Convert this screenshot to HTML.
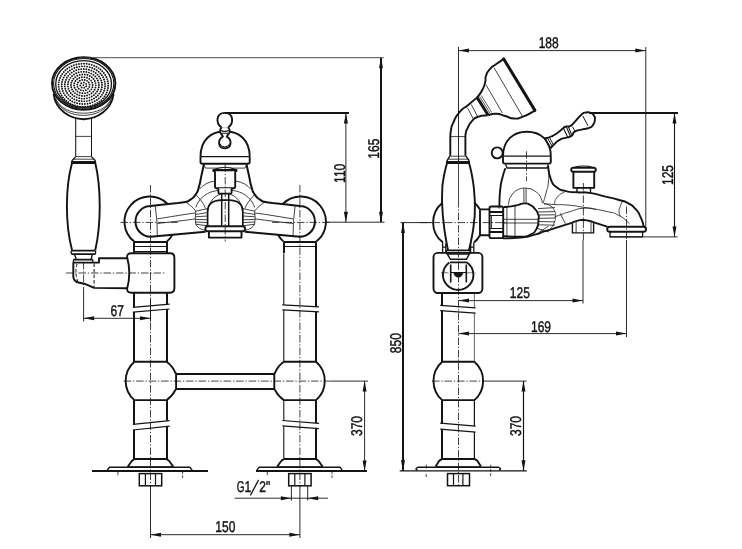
<!DOCTYPE html>
<html><head><meta charset="utf-8"><title>Drawing</title>
<style>
html,body{margin:0;padding:0;background:#fff;}
body{width:742px;height:549px;overflow:hidden;}
svg{display:block;}
text{font-family:"Liberation Sans",sans-serif;fill:#141414;stroke:#141414;stroke-width:0.45px;text-rendering:geometricPrecision;}
</style></head><body>
<svg width="742" height="549" viewBox="0 0 742 549">
<rect x="0" y="0" width="742" height="549" fill="#ffffff"/>
<g opacity="0.999">
<path d="M53.6,94 C55.5,110 70,119.2 83.6,119.2 C97,119.2 111.5,110 113.6,94" stroke="#141414" stroke-width="1.9" fill="none" stroke-linejoin="round" stroke-linecap="butt"/>
<path d="M56.2,100.5 C61,110.5 72,115.4 83.6,115.4 C95,115.4 106,110.5 110.8,100.5" stroke="#141414" stroke-width="0.8" fill="none" stroke-linejoin="round" stroke-linecap="butt"/>
<path d="M55.0,97.6 C60,108.8 71,113.2 83.6,113.2 C96,113.2 107,108.8 112.0,97.6" stroke="#141414" stroke-width="0.8" fill="none" stroke-linejoin="round" stroke-linecap="butt"/>
<ellipse cx="83.7" cy="83.5" rx="31.7" ry="26.2" stroke="#141414" stroke-width="1.9" fill="#fff" />
<ellipse cx="83.7" cy="83.4" rx="30.1" ry="24.9" stroke="#141414" stroke-width="1.1" fill="none" />
<ellipse cx="83.6" cy="84.0" rx="27.9" ry="23.3" stroke="#141414" stroke-width="1.3" fill="none" />
<circle cx="86.29" cy="86.18" r="0.95" fill="#141414"/>
<circle cx="84.33" cy="87.77" r="0.95" fill="#141414"/>
<circle cx="81.66" cy="87.43" r="0.95" fill="#141414"/>
<circle cx="80.31" cy="85.41" r="0.95" fill="#141414"/>
<circle cx="81.28" cy="83.23" r="0.95" fill="#141414"/>
<circle cx="83.85" cy="82.53" r="0.95" fill="#141414"/>
<circle cx="86.08" cy="83.84" r="0.95" fill="#141414"/>
<circle cx="87.98" cy="88.84" r="0.95" fill="#141414"/>
<circle cx="85.88" cy="90.14" r="0.95" fill="#141414"/>
<circle cx="83.36" cy="90.59" r="0.95" fill="#141414"/>
<circle cx="80.84" cy="90.11" r="0.95" fill="#141414"/>
<circle cx="78.76" cy="88.78" r="0.95" fill="#141414"/>
<circle cx="77.49" cy="86.83" r="0.95" fill="#141414"/>
<circle cx="77.24" cy="84.60" r="0.95" fill="#141414"/>
<circle cx="78.05" cy="82.47" r="0.95" fill="#141414"/>
<circle cx="79.79" cy="80.81" r="0.95" fill="#141414"/>
<circle cx="82.15" cy="79.92" r="0.95" fill="#141414"/>
<circle cx="84.73" cy="79.93" r="0.95" fill="#141414"/>
<circle cx="87.08" cy="80.86" r="0.95" fill="#141414"/>
<circle cx="88.79" cy="82.54" r="0.95" fill="#141414"/>
<circle cx="89.57" cy="84.67" r="0.95" fill="#141414"/>
<circle cx="89.28" cy="86.90" r="0.95" fill="#141414"/>
<circle cx="87.54" cy="92.45" r="0.95" fill="#141414"/>
<circle cx="85.02" cy="93.17" r="0.95" fill="#141414"/>
<circle cx="82.38" cy="93.24" r="0.95" fill="#141414"/>
<circle cx="79.81" cy="92.66" r="0.95" fill="#141414"/>
<circle cx="77.54" cy="91.48" r="0.95" fill="#141414"/>
<circle cx="75.74" cy="89.79" r="0.95" fill="#141414"/>
<circle cx="74.57" cy="87.73" r="0.95" fill="#141414"/>
<circle cx="74.10" cy="85.46" r="0.95" fill="#141414"/>
<circle cx="74.40" cy="83.17" r="0.95" fill="#141414"/>
<circle cx="75.42" cy="81.05" r="0.95" fill="#141414"/>
<circle cx="77.09" cy="79.26" r="0.95" fill="#141414"/>
<circle cx="79.26" cy="77.95" r="0.95" fill="#141414"/>
<circle cx="81.78" cy="77.23" r="0.95" fill="#141414"/>
<circle cx="84.42" cy="77.16" r="0.95" fill="#141414"/>
<circle cx="86.99" cy="77.74" r="0.95" fill="#141414"/>
<circle cx="89.26" cy="78.92" r="0.95" fill="#141414"/>
<circle cx="91.06" cy="80.61" r="0.95" fill="#141414"/>
<circle cx="92.23" cy="82.67" r="0.95" fill="#141414"/>
<circle cx="92.70" cy="84.94" r="0.95" fill="#141414"/>
<circle cx="92.40" cy="87.23" r="0.95" fill="#141414"/>
<circle cx="91.38" cy="89.35" r="0.95" fill="#141414"/>
<circle cx="89.71" cy="91.14" r="0.95" fill="#141414"/>
<circle cx="84.52" cy="95.94" r="0.95" fill="#141414"/>
<circle cx="81.93" cy="95.91" r="0.95" fill="#141414"/>
<circle cx="79.40" cy="95.41" r="0.95" fill="#141414"/>
<circle cx="77.05" cy="94.47" r="0.95" fill="#141414"/>
<circle cx="74.98" cy="93.12" r="0.95" fill="#141414"/>
<circle cx="73.27" cy="91.42" r="0.95" fill="#141414"/>
<circle cx="72.00" cy="89.45" r="0.95" fill="#141414"/>
<circle cx="71.24" cy="87.30" r="0.95" fill="#141414"/>
<circle cx="71.00" cy="85.05" r="0.95" fill="#141414"/>
<circle cx="71.31" cy="82.81" r="0.95" fill="#141414"/>
<circle cx="72.14" cy="80.68" r="0.95" fill="#141414"/>
<circle cx="73.47" cy="78.74" r="0.95" fill="#141414"/>
<circle cx="75.23" cy="77.08" r="0.95" fill="#141414"/>
<circle cx="77.35" cy="75.78" r="0.95" fill="#141414"/>
<circle cx="79.73" cy="74.89" r="0.95" fill="#141414"/>
<circle cx="82.28" cy="74.46" r="0.95" fill="#141414"/>
<circle cx="84.87" cy="74.49" r="0.95" fill="#141414"/>
<circle cx="87.40" cy="74.99" r="0.95" fill="#141414"/>
<circle cx="89.75" cy="75.93" r="0.95" fill="#141414"/>
<circle cx="91.82" cy="77.28" r="0.95" fill="#141414"/>
<circle cx="93.53" cy="78.98" r="0.95" fill="#141414"/>
<circle cx="94.80" cy="80.95" r="0.95" fill="#141414"/>
<circle cx="95.56" cy="83.10" r="0.95" fill="#141414"/>
<circle cx="95.80" cy="85.35" r="0.95" fill="#141414"/>
<circle cx="95.49" cy="87.59" r="0.95" fill="#141414"/>
<circle cx="94.66" cy="89.72" r="0.95" fill="#141414"/>
<circle cx="93.33" cy="91.66" r="0.95" fill="#141414"/>
<circle cx="91.57" cy="93.32" r="0.95" fill="#141414"/>
<circle cx="89.45" cy="94.62" r="0.95" fill="#141414"/>
<circle cx="87.07" cy="95.51" r="0.95" fill="#141414"/>
<circle cx="79.13" cy="98.16" r="0.95" fill="#141414"/>
<circle cx="76.67" cy="97.35" r="0.95" fill="#141414"/>
<circle cx="74.41" cy="96.18" r="0.95" fill="#141414"/>
<circle cx="72.40" cy="94.70" r="0.95" fill="#141414"/>
<circle cx="70.72" cy="92.95" r="0.95" fill="#141414"/>
<circle cx="69.39" cy="90.97" r="0.95" fill="#141414"/>
<circle cx="68.47" cy="88.83" r="0.95" fill="#141414"/>
<circle cx="67.98" cy="86.58" r="0.95" fill="#141414"/>
<circle cx="67.93" cy="84.30" r="0.95" fill="#141414"/>
<circle cx="68.33" cy="82.04" r="0.95" fill="#141414"/>
<circle cx="69.16" cy="79.87" r="0.95" fill="#141414"/>
<circle cx="70.40" cy="77.85" r="0.95" fill="#141414"/>
<circle cx="72.02" cy="76.05" r="0.95" fill="#141414"/>
<circle cx="73.96" cy="74.50" r="0.95" fill="#141414"/>
<circle cx="76.17" cy="73.27" r="0.95" fill="#141414"/>
<circle cx="78.60" cy="72.38" r="0.95" fill="#141414"/>
<circle cx="81.16" cy="71.86" r="0.95" fill="#141414"/>
<circle cx="83.78" cy="71.72" r="0.95" fill="#141414"/>
<circle cx="86.39" cy="71.97" r="0.95" fill="#141414"/>
<circle cx="88.92" cy="72.60" r="0.95" fill="#141414"/>
<circle cx="91.29" cy="73.59" r="0.95" fill="#141414"/>
<circle cx="93.43" cy="74.92" r="0.95" fill="#141414"/>
<circle cx="95.28" cy="76.54" r="0.95" fill="#141414"/>
<circle cx="96.79" cy="78.41" r="0.95" fill="#141414"/>
<circle cx="97.92" cy="80.48" r="0.95" fill="#141414"/>
<circle cx="98.63" cy="82.68" r="0.95" fill="#141414"/>
<circle cx="98.90" cy="84.96" r="0.95" fill="#141414"/>
<circle cx="98.72" cy="87.24" r="0.95" fill="#141414"/>
<circle cx="98.11" cy="89.46" r="0.95" fill="#141414"/>
<circle cx="97.07" cy="91.56" r="0.95" fill="#141414"/>
<circle cx="95.63" cy="93.48" r="0.95" fill="#141414"/>
<circle cx="93.85" cy="95.16" r="0.95" fill="#141414"/>
<circle cx="91.76" cy="96.55" r="0.95" fill="#141414"/>
<circle cx="89.44" cy="97.62" r="0.95" fill="#141414"/>
<circle cx="86.94" cy="98.33" r="0.95" fill="#141414"/>
<circle cx="84.34" cy="98.66" r="0.95" fill="#141414"/>
<circle cx="81.71" cy="98.60" r="0.95" fill="#141414"/>
<circle cx="72.16" cy="98.09" r="0.95" fill="#141414"/>
<circle cx="70.20" cy="96.60" r="0.95" fill="#141414"/>
<circle cx="68.51" cy="94.89" r="0.95" fill="#141414"/>
<circle cx="67.10" cy="93.00" r="0.95" fill="#141414"/>
<circle cx="66.01" cy="90.95" r="0.95" fill="#141414"/>
<circle cx="65.26" cy="88.79" r="0.95" fill="#141414"/>
<circle cx="64.87" cy="86.56" r="0.95" fill="#141414"/>
<circle cx="64.83" cy="84.30" r="0.95" fill="#141414"/>
<circle cx="65.15" cy="82.06" r="0.95" fill="#141414"/>
<circle cx="65.83" cy="79.88" r="0.95" fill="#141414"/>
<circle cx="66.86" cy="77.80" r="0.95" fill="#141414"/>
<circle cx="68.20" cy="75.87" r="0.95" fill="#141414"/>
<circle cx="69.84" cy="74.12" r="0.95" fill="#141414"/>
<circle cx="71.74" cy="72.59" r="0.95" fill="#141414"/>
<circle cx="73.88" cy="71.30" r="0.95" fill="#141414"/>
<circle cx="76.19" cy="70.28" r="0.95" fill="#141414"/>
<circle cx="78.65" cy="69.56" r="0.95" fill="#141414"/>
<circle cx="81.20" cy="69.13" r="0.95" fill="#141414"/>
<circle cx="83.79" cy="69.02" r="0.95" fill="#141414"/>
<circle cx="86.37" cy="69.23" r="0.95" fill="#141414"/>
<circle cx="88.90" cy="69.74" r="0.95" fill="#141414"/>
<circle cx="91.32" cy="70.56" r="0.95" fill="#141414"/>
<circle cx="93.58" cy="71.66" r="0.95" fill="#141414"/>
<circle cx="95.65" cy="73.02" r="0.95" fill="#141414"/>
<circle cx="97.48" cy="74.63" r="0.95" fill="#141414"/>
<circle cx="99.03" cy="76.43" r="0.95" fill="#141414"/>
<circle cx="100.28" cy="78.41" r="0.95" fill="#141414"/>
<circle cx="101.21" cy="80.52" r="0.95" fill="#141414"/>
<circle cx="101.78" cy="82.72" r="0.95" fill="#141414"/>
<circle cx="102.00" cy="84.97" r="0.95" fill="#141414"/>
<circle cx="101.85" cy="87.23" r="0.95" fill="#141414"/>
<circle cx="101.35" cy="89.44" r="0.95" fill="#141414"/>
<circle cx="100.50" cy="91.57" r="0.95" fill="#141414"/>
<circle cx="99.31" cy="93.58" r="0.95" fill="#141414"/>
<circle cx="97.81" cy="95.43" r="0.95" fill="#141414"/>
<circle cx="96.04" cy="97.07" r="0.95" fill="#141414"/>
<circle cx="94.02" cy="98.49" r="0.95" fill="#141414"/>
<circle cx="91.79" cy="99.64" r="0.95" fill="#141414"/>
<circle cx="89.40" cy="100.52" r="0.95" fill="#141414"/>
<circle cx="86.89" cy="101.10" r="0.95" fill="#141414"/>
<circle cx="84.31" cy="101.36" r="0.95" fill="#141414"/>
<circle cx="81.72" cy="101.32" r="0.95" fill="#141414"/>
<circle cx="79.15" cy="100.95" r="0.95" fill="#141414"/>
<circle cx="76.67" cy="100.29" r="0.95" fill="#141414"/>
<circle cx="74.33" cy="99.33" r="0.95" fill="#141414"/>
<circle cx="64.92" cy="95.09" r="0.95" fill="#141414"/>
<circle cx="63.68" cy="93.08" r="0.95" fill="#141414"/>
<circle cx="62.73" cy="90.96" r="0.95" fill="#141414"/>
<circle cx="62.09" cy="88.75" r="0.95" fill="#141414"/>
<circle cx="61.75" cy="86.49" r="0.95" fill="#141414"/>
<circle cx="61.73" cy="84.21" r="0.95" fill="#141414"/>
<circle cx="62.03" cy="81.94" r="0.95" fill="#141414"/>
<circle cx="62.63" cy="79.73" r="0.95" fill="#141414"/>
<circle cx="63.54" cy="77.59" r="0.95" fill="#141414"/>
<circle cx="64.74" cy="75.56" r="0.95" fill="#141414"/>
<circle cx="66.21" cy="73.67" r="0.95" fill="#141414"/>
<circle cx="67.94" cy="71.96" r="0.95" fill="#141414"/>
<circle cx="69.88" cy="70.43" r="0.95" fill="#141414"/>
<circle cx="72.03" cy="69.12" r="0.95" fill="#141414"/>
<circle cx="74.34" cy="68.05" r="0.95" fill="#141414"/>
<circle cx="76.78" cy="67.22" r="0.95" fill="#141414"/>
<circle cx="79.32" cy="66.66" r="0.95" fill="#141414"/>
<circle cx="81.92" cy="66.36" r="0.95" fill="#141414"/>
<circle cx="84.54" cy="66.35" r="0.95" fill="#141414"/>
<circle cx="87.14" cy="66.60" r="0.95" fill="#141414"/>
<circle cx="89.69" cy="67.13" r="0.95" fill="#141414"/>
<circle cx="92.15" cy="67.92" r="0.95" fill="#141414"/>
<circle cx="94.48" cy="68.97" r="0.95" fill="#141414"/>
<circle cx="96.65" cy="70.25" r="0.95" fill="#141414"/>
<circle cx="98.62" cy="71.75" r="0.95" fill="#141414"/>
<circle cx="100.38" cy="73.44" r="0.95" fill="#141414"/>
<circle cx="101.88" cy="75.31" r="0.95" fill="#141414"/>
<circle cx="103.12" cy="77.32" r="0.95" fill="#141414"/>
<circle cx="104.07" cy="79.44" r="0.95" fill="#141414"/>
<circle cx="104.71" cy="81.65" r="0.95" fill="#141414"/>
<circle cx="105.05" cy="83.91" r="0.95" fill="#141414"/>
<circle cx="105.07" cy="86.19" r="0.95" fill="#141414"/>
<circle cx="104.77" cy="88.46" r="0.95" fill="#141414"/>
<circle cx="104.17" cy="90.67" r="0.95" fill="#141414"/>
<circle cx="103.26" cy="92.81" r="0.95" fill="#141414"/>
<circle cx="102.06" cy="94.84" r="0.95" fill="#141414"/>
<circle cx="100.59" cy="96.73" r="0.95" fill="#141414"/>
<circle cx="98.86" cy="98.44" r="0.95" fill="#141414"/>
<circle cx="96.92" cy="99.97" r="0.95" fill="#141414"/>
<circle cx="94.77" cy="101.28" r="0.95" fill="#141414"/>
<circle cx="92.46" cy="102.35" r="0.95" fill="#141414"/>
<circle cx="90.02" cy="103.18" r="0.95" fill="#141414"/>
<circle cx="87.48" cy="103.74" r="0.95" fill="#141414"/>
<circle cx="84.88" cy="104.04" r="0.95" fill="#141414"/>
<circle cx="82.26" cy="104.05" r="0.95" fill="#141414"/>
<circle cx="79.66" cy="103.80" r="0.95" fill="#141414"/>
<circle cx="77.11" cy="103.27" r="0.95" fill="#141414"/>
<circle cx="74.65" cy="102.48" r="0.95" fill="#141414"/>
<circle cx="72.32" cy="101.43" r="0.95" fill="#141414"/>
<circle cx="70.15" cy="100.15" r="0.95" fill="#141414"/>
<circle cx="68.18" cy="98.65" r="0.95" fill="#141414"/>
<circle cx="66.42" cy="96.96" r="0.95" fill="#141414"/>
<circle cx="59.01" cy="89.10" r="0.95" fill="#141414"/>
<circle cx="58.67" cy="86.86" r="0.95" fill="#141414"/>
<circle cx="58.61" cy="84.60" r="0.95" fill="#141414"/>
<circle cx="58.82" cy="82.35" r="0.95" fill="#141414"/>
<circle cx="59.29" cy="80.13" r="0.95" fill="#141414"/>
<circle cx="60.04" cy="77.96" r="0.95" fill="#141414"/>
<circle cx="61.03" cy="75.88" r="0.95" fill="#141414"/>
<circle cx="62.28" cy="73.90" r="0.95" fill="#141414"/>
<circle cx="63.75" cy="72.04" r="0.95" fill="#141414"/>
<circle cx="65.44" cy="70.32" r="0.95" fill="#141414"/>
<circle cx="67.33" cy="68.77" r="0.95" fill="#141414"/>
<circle cx="69.39" cy="67.40" r="0.95" fill="#141414"/>
<circle cx="71.60" cy="66.22" r="0.95" fill="#141414"/>
<circle cx="73.95" cy="65.25" r="0.95" fill="#141414"/>
<circle cx="76.40" cy="64.50" r="0.95" fill="#141414"/>
<circle cx="78.92" cy="63.98" r="0.95" fill="#141414"/>
<circle cx="81.50" cy="63.69" r="0.95" fill="#141414"/>
<circle cx="84.09" cy="63.63" r="0.95" fill="#141414"/>
<circle cx="86.68" cy="63.81" r="0.95" fill="#141414"/>
<circle cx="89.23" cy="64.23" r="0.95" fill="#141414"/>
<circle cx="91.72" cy="64.87" r="0.95" fill="#141414"/>
<circle cx="94.11" cy="65.74" r="0.95" fill="#141414"/>
<circle cx="96.39" cy="66.82" r="0.95" fill="#141414"/>
<circle cx="98.53" cy="68.10" r="0.95" fill="#141414"/>
<circle cx="100.50" cy="69.57" r="0.95" fill="#141414"/>
<circle cx="102.28" cy="71.21" r="0.95" fill="#141414"/>
<circle cx="103.86" cy="73.01" r="0.95" fill="#141414"/>
<circle cx="105.21" cy="74.94" r="0.95" fill="#141414"/>
<circle cx="106.33" cy="76.98" r="0.95" fill="#141414"/>
<circle cx="107.19" cy="79.11" r="0.95" fill="#141414"/>
<circle cx="107.79" cy="81.30" r="0.95" fill="#141414"/>
<circle cx="108.13" cy="83.54" r="0.95" fill="#141414"/>
<circle cx="108.19" cy="85.80" r="0.95" fill="#141414"/>
<circle cx="107.98" cy="88.05" r="0.95" fill="#141414"/>
<circle cx="107.51" cy="90.27" r="0.95" fill="#141414"/>
<circle cx="106.76" cy="92.44" r="0.95" fill="#141414"/>
<circle cx="105.77" cy="94.52" r="0.95" fill="#141414"/>
<circle cx="104.52" cy="96.50" r="0.95" fill="#141414"/>
<circle cx="103.05" cy="98.36" r="0.95" fill="#141414"/>
<circle cx="101.36" cy="100.08" r="0.95" fill="#141414"/>
<circle cx="99.47" cy="101.63" r="0.95" fill="#141414"/>
<circle cx="97.41" cy="103.00" r="0.95" fill="#141414"/>
<circle cx="95.20" cy="104.18" r="0.95" fill="#141414"/>
<circle cx="92.85" cy="105.15" r="0.95" fill="#141414"/>
<circle cx="90.40" cy="105.90" r="0.95" fill="#141414"/>
<circle cx="87.88" cy="106.42" r="0.95" fill="#141414"/>
<circle cx="85.30" cy="106.71" r="0.95" fill="#141414"/>
<circle cx="82.71" cy="106.77" r="0.95" fill="#141414"/>
<circle cx="80.12" cy="106.59" r="0.95" fill="#141414"/>
<circle cx="77.57" cy="106.17" r="0.95" fill="#141414"/>
<circle cx="75.08" cy="105.53" r="0.95" fill="#141414"/>
<circle cx="72.69" cy="104.66" r="0.95" fill="#141414"/>
<circle cx="70.41" cy="103.58" r="0.95" fill="#141414"/>
<circle cx="68.27" cy="102.30" r="0.95" fill="#141414"/>
<circle cx="66.30" cy="100.83" r="0.95" fill="#141414"/>
<circle cx="64.52" cy="99.19" r="0.95" fill="#141414"/>
<circle cx="62.94" cy="97.39" r="0.95" fill="#141414"/>
<circle cx="61.59" cy="95.46" r="0.95" fill="#141414"/>
<circle cx="60.47" cy="93.42" r="0.95" fill="#141414"/>
<circle cx="59.61" cy="91.29" r="0.95" fill="#141414"/>
<circle cx="83.4" cy="85.2" r="0.85" fill="#141414"/>
<line x1="75.7" y1="117" x2="75.7" y2="156.6" stroke="#141414" stroke-width="1.05" stroke-linecap="butt"/>
<line x1="91.5" y1="117" x2="91.5" y2="156.6" stroke="#141414" stroke-width="1.05" stroke-linecap="butt"/>
<line x1="75.8" y1="136.4" x2="91.5" y2="136.4" stroke="#141414" stroke-width="0.8" stroke-linecap="butt"/>
<line x1="75.8" y1="156.6" x2="91.5" y2="156.6" stroke="#141414" stroke-width="0.8" stroke-linecap="butt"/>
<path d="M75.8,156.6 L72.2,160.5 L71.7,162.5 M91.5,156.6 L95.1,160.5 L95.6,162.5" stroke="#141414" stroke-width="1.3" fill="none" stroke-linejoin="round" stroke-linecap="butt"/>
<line x1="73.5" y1="159.2" x2="93.8" y2="159.2" stroke="#141414" stroke-width="0.8" stroke-linecap="butt"/>
<line x1="71.4" y1="162.2" x2="95.9" y2="162.2" stroke="#141414" stroke-width="2.6" stroke-linecap="butt" shape-rendering="crispEdges"/>
<path d="M72,163 C65.2,188 65.2,224 72,250" stroke="#141414" stroke-width="1.9" fill="none" stroke-linejoin="round" stroke-linecap="butt"/>
<path d="M95.3,163 C101.2,188 101.2,224 95.3,250" stroke="#141414" stroke-width="1.9" fill="none" stroke-linejoin="round" stroke-linecap="butt"/>
<path d="M71.4,250.6 L95.4,250.6 M71.4,254.2 L95.4,254.2" stroke="#141414" stroke-width="1.7" fill="none" stroke-linejoin="round" stroke-linecap="butt"/>
<path d="M71.6,250.6 Q70.4,252.4 71.6,254.2 M95.2,250.6 Q96.4,252.4 95.2,254.2" stroke="#141414" stroke-width="1.5" fill="none" stroke-linejoin="round" stroke-linecap="butt"/>
<path d="M74.5,254.6 L76.2,259 M92.2,254.6 L91.2,259" stroke="#141414" stroke-width="1.4" fill="none" stroke-linejoin="round" stroke-linecap="butt"/>
<path d="M73.3,259.6 L92.9,259.6 M73.3,262.6 L92.9,262.6" stroke="#141414" stroke-width="1.6" fill="none" stroke-linejoin="round" stroke-linecap="butt"/>
<path d="M73.6,259.6 L73.3,262.6 M92.7,259.6 L92.9,262.6" stroke="#141414" stroke-width="1.3" fill="none" stroke-linejoin="round" stroke-linecap="butt"/>
<path d="M73.3,262.6 L73.3,276.6 Q73.5,281.8 79.4,282.7 L84.3,283.7 L94.1,287.9 L127,288.2" stroke="#141414" stroke-width="1.9" fill="none" stroke-linejoin="round" stroke-linecap="butt"/>
<path d="M92.9,262.6 L99,262.6 L99,258.2 L127.4,258.2" stroke="#141414" stroke-width="1.9" fill="none" stroke-linejoin="round" stroke-linecap="butt"/>
<line x1="94.1" y1="263.5" x2="94.1" y2="287.5" stroke="#141414" stroke-width="1.0" stroke-dasharray="3.5 2" stroke-linecap="butt"/>
<path d="M77,264 Q74.6,272.5 77.6,281" stroke="#141414" stroke-width="1.0" fill="none" stroke-linejoin="round" stroke-linecap="butt" stroke-dasharray="3 2"/>
<path d="M131.5,253.3 L170,253.3 Q174.4,253.3 174.4,257.7 L174.4,288.3 Q174.4,292.7 170,292.7 L131.5,292.7 Q126.4,292.7 127.2,288.2 Q131.4,273 127.2,257.4 Q126.4,253.3 131.5,253.3 Z" stroke="#141414" stroke-width="1.9" fill="none" stroke-linejoin="round" stroke-linecap="butt"/>
<line x1="134.4" y1="242.0" x2="166.6" y2="242.0" stroke="#141414" stroke-width="2.0" stroke-linecap="butt" shape-rendering="crispEdges"/>
<line x1="134.4" y1="246.5" x2="166.6" y2="246.5" stroke="#141414" stroke-width="1.1" stroke-linecap="butt"/>
<line x1="134.4" y1="251.8" x2="166.6" y2="251.8" stroke="#141414" stroke-width="1.3" stroke-linecap="butt" shape-rendering="crispEdges"/>
<line x1="134.4" y1="242.0" x2="134.4" y2="253.3" stroke="#141414" stroke-width="1.9" stroke-linecap="butt" shape-rendering="crispEdges"/>
<line x1="166.6" y1="242.0" x2="166.6" y2="253.3" stroke="#141414" stroke-width="1.9" stroke-linecap="butt" shape-rendering="crispEdges"/>
<g><path d="M167.4,203.8 A25.2,25.2 0 1 0 134.2,241.6" stroke="#141414" stroke-width="1.9" fill="none" stroke-linejoin="round"/>
<path d="M166.8,241.6 A25.2,25.2 0 0 0 172.3,235.0" stroke="#141414" stroke-width="1.9" fill="none" stroke-linejoin="round"/>
<path d="M203.90,164.30 C203.03,168.27 202.93,168.77 201.30,176.20 C199.67,183.63 200.83,180.57 199.00,186.60 C197.17,192.63 198.67,189.97 195.80,194.30 C192.93,198.63 194.00,197.03 190.40,199.60 C186.80,202.17 189.13,200.87 185.00,202.00 C180.87,203.13 180.33,202.67 178.00,203.00 L166,204.2 L150.7,206.1 A15.2,15.35 0 0 0 150.7,236.8 L205.6,231.8" stroke="#141414" stroke-width="2.0" fill="none" stroke-linejoin="round"/>
<path d="M155.3,206 Q157.6,222 157.3,236.2" stroke="#141414" stroke-width="0.8" fill="none" stroke-linejoin="round"/>
<path d="M157.3,218.9 L185,214.4 L195.3,213.0" stroke="#141414" stroke-width="0.8" fill="none" stroke-linejoin="round"/>
<path d="M157.3,223.5 L185,220.3 L195.3,218.9" stroke="#141414" stroke-width="0.8" fill="none" stroke-linejoin="round"/>
<path d="M195.6,211.2 L207.6,208.6" stroke="#141414" stroke-width="0.8" fill="none" stroke-linejoin="round"/>
<path d="M195.6,214.4 L207.6,212.6" stroke="#141414" stroke-width="0.8" fill="none" stroke-linejoin="round"/>
<path d="M195.6,216.8 L207.6,216.0" stroke="#141414" stroke-width="0.8" fill="none" stroke-linejoin="round"/>
<path d="M195.6,219.4 L207.6,219.8" stroke="#141414" stroke-width="0.8" fill="none" stroke-linejoin="round"/>
<path d="M195.6,222.0 L207.6,222.6" stroke="#141414" stroke-width="0.8" fill="none" stroke-linejoin="round"/>
<path d="M195.6,224.2 L207.6,225.8" stroke="#141414" stroke-width="0.8" fill="none" stroke-linejoin="round"/>
<path d="M195.8,211.2 Q194.6,218 195.8,224.2 Q198,229 205.5,230.4" stroke="#141414" stroke-width="0.8" fill="none" stroke-linejoin="round"/>
<path d="M199.6,189.1 C203,185 208,182 215,181" stroke="#141414" stroke-width="0.8" fill="none" stroke-linejoin="round"/>
<path d="M195.8,207.4 C198,200 205,193 214.1,191.2 L218.4,190.2" stroke="#141414" stroke-width="0.8" fill="none" stroke-linejoin="round"/>
<path d="M208.2,210.7 C208.6,203 213,196.2 221.7,193.8" stroke="#141414" stroke-width="0.8" fill="none" stroke-linejoin="round"/>
<path d="M195.8,194.5 C199.5,198.5 203.5,203 205.5,208.5" stroke="#141414" stroke-width="0.8" fill="none" stroke-linejoin="round"/>
<path d="M185,201.6 C189.5,204.5 193.5,208 195.8,211.2" stroke="#141414" stroke-width="0.8" fill="none" stroke-linejoin="round"/>
<path d="M205.5,168.1 L225.4,168.1" stroke="#141414" stroke-width="0.8" fill="none" stroke-linejoin="round"/>
<path d="M203.6,164.4 L205.5,168.1" stroke="#141414" stroke-width="0.8" fill="none" stroke-linejoin="round"/></g>
<g transform="translate(450.4,0) scale(-1,1)"><path d="M167.4,203.8 A25.2,25.2 0 1 0 134.2,241.6" stroke="#141414" stroke-width="1.9" fill="none" stroke-linejoin="round"/>
<path d="M166.8,241.6 A25.2,25.2 0 0 0 172.3,235.0" stroke="#141414" stroke-width="1.9" fill="none" stroke-linejoin="round"/>
<path d="M203.90,164.30 C203.03,168.27 202.93,168.77 201.30,176.20 C199.67,183.63 200.83,180.57 199.00,186.60 C197.17,192.63 198.67,189.97 195.80,194.30 C192.93,198.63 194.00,197.03 190.40,199.60 C186.80,202.17 189.13,200.87 185.00,202.00 C180.87,203.13 180.33,202.67 178.00,203.00 L166,204.2 L150.7,206.1 A15.2,15.35 0 0 0 150.7,236.8 L205.6,231.8" stroke="#141414" stroke-width="2.0" fill="none" stroke-linejoin="round"/>
<path d="M155.3,206 Q157.6,222 157.3,236.2" stroke="#141414" stroke-width="0.8" fill="none" stroke-linejoin="round"/>
<path d="M157.3,218.9 L185,214.4 L195.3,213.0" stroke="#141414" stroke-width="0.8" fill="none" stroke-linejoin="round"/>
<path d="M157.3,223.5 L185,220.3 L195.3,218.9" stroke="#141414" stroke-width="0.8" fill="none" stroke-linejoin="round"/>
<path d="M195.6,211.2 L207.6,208.6" stroke="#141414" stroke-width="0.8" fill="none" stroke-linejoin="round"/>
<path d="M195.6,214.4 L207.6,212.6" stroke="#141414" stroke-width="0.8" fill="none" stroke-linejoin="round"/>
<path d="M195.6,216.8 L207.6,216.0" stroke="#141414" stroke-width="0.8" fill="none" stroke-linejoin="round"/>
<path d="M195.6,219.4 L207.6,219.8" stroke="#141414" stroke-width="0.8" fill="none" stroke-linejoin="round"/>
<path d="M195.6,222.0 L207.6,222.6" stroke="#141414" stroke-width="0.8" fill="none" stroke-linejoin="round"/>
<path d="M195.6,224.2 L207.6,225.8" stroke="#141414" stroke-width="0.8" fill="none" stroke-linejoin="round"/>
<path d="M195.8,211.2 Q194.6,218 195.8,224.2 Q198,229 205.5,230.4" stroke="#141414" stroke-width="0.8" fill="none" stroke-linejoin="round"/>
<path d="M199.6,189.1 C203,185 208,182 215,181" stroke="#141414" stroke-width="0.8" fill="none" stroke-linejoin="round"/>
<path d="M195.8,207.4 C198,200 205,193 214.1,191.2 L218.4,190.2" stroke="#141414" stroke-width="0.8" fill="none" stroke-linejoin="round"/>
<path d="M208.2,210.7 C208.6,203 213,196.2 221.7,193.8" stroke="#141414" stroke-width="0.8" fill="none" stroke-linejoin="round"/>
<path d="M195.8,194.5 C199.5,198.5 203.5,203 205.5,208.5" stroke="#141414" stroke-width="0.8" fill="none" stroke-linejoin="round"/>
<path d="M185,201.6 C189.5,204.5 193.5,208 195.8,211.2" stroke="#141414" stroke-width="0.8" fill="none" stroke-linejoin="round"/>
<path d="M205.5,168.1 L225.4,168.1" stroke="#141414" stroke-width="0.8" fill="none" stroke-linejoin="round"/>
<path d="M203.6,164.4 L205.5,168.1" stroke="#141414" stroke-width="0.8" fill="none" stroke-linejoin="round"/></g>
<path d="M200.5,156.6 C200.5,140 211,131.3 225.1,131.3 C239.2,131.3 249.7,140 249.7,156.6" stroke="#141414" stroke-width="1.9" fill="#fff" stroke-linejoin="round" stroke-linecap="butt"/>
<path d="M200.5,156.6 L249.7,156.6" stroke="#141414" stroke-width="1.1" fill="none" stroke-linejoin="round" stroke-linecap="butt"/>
<path d="M200.5,156.6 L200.5,162 Q200.5,163.8 202.5,163.8 L247.7,163.8 Q249.7,163.8 249.7,162 L249.7,156.6" stroke="#141414" stroke-width="1.9" fill="none" stroke-linejoin="round" stroke-linecap="butt"/>
<path d="M221.6,127.6 C215.4,123.5 216,112.9 224.8,112.9 C233.6,112.9 234.2,123.5 228.1,127.6" stroke="#141414" stroke-width="1.9" fill="#fff" stroke-linejoin="round" stroke-linecap="butt"/>
<path d="M221.6,127.6 Q224.8,129.2 228.1,127.6" stroke="#141414" stroke-width="1.1" fill="none" stroke-linejoin="round" stroke-linecap="butt"/>
<path d="M221.6,127.6 L220.3,129.2 Q219.5,131.6 220.8,133.7 L229.0,133.7 Q230.3,131.6 229.5,129.2 L228.1,127.6" stroke="#141414" stroke-width="1.7" fill="#fff" stroke-linejoin="round" stroke-linecap="butt"/>
<path d="M220.2,130.2 Q224.8,132.6 229.6,130.2" stroke="#141414" stroke-width="1.2" fill="none" stroke-linejoin="round" stroke-linecap="butt"/>
<path d="M221.2,133.7 L222.9,136.6 C217.6,139.4 217.4,148.3 224.8,148.3 C232.2,148.3 232,139.4 226.8,136.6 L228.6,133.7" stroke="#141414" stroke-width="1.9" fill="#fff" stroke-linejoin="round" stroke-linecap="butt"/>
<path d="M219.6,143.2 Q221,147 224.8,147 Q228.6,147 230,143.2" stroke="#141414" stroke-width="1.0" fill="none" stroke-linejoin="round" stroke-linecap="butt"/>
<path d="M213.2,169.9 Q225.2,164.6 236.6,169.9" stroke="#141414" stroke-width="1.2" fill="#fff" stroke-linejoin="round" stroke-linecap="butt"/>
<path d="M213.2,169.9 L236.6,169.9 L236.6,171.3 L213.2,171.3 Z" stroke="#141414" stroke-width="1.6" fill="none" stroke-linejoin="round" stroke-linecap="butt"/>
<path d="M215,171.3 L215,186.8 Q215,188.2 216.4,188.2 L233.8,188.2 Q235.2,188.2 235.2,186.8 L235.2,171.3" stroke="#141414" stroke-width="1.9" fill="#fff" stroke-linejoin="round" stroke-linecap="butt"/>
<path d="M218.4,188.2 L218.4,192.4 Q218.4,193.6 219.6,193.6 L230.4,193.6 Q231.6,193.6 231.6,192.4 L231.6,188.2" stroke="#141414" stroke-width="1.9" fill="#fff" stroke-linejoin="round" stroke-linecap="butt"/>
<path d="M221.7,193.6 L221.7,226.3 M228.7,193.6 L228.7,226.3" stroke="#141414" stroke-width="1.5" fill="none" stroke-linejoin="round" stroke-linecap="butt"/>
<path d="M207.6,226.3 L207.6,211.5 C207.6,204.5 212.5,200.4 221.7,200.2 L228.7,200.2 C237.9,200.4 242.8,204.5 242.8,211.5 L242.8,226.3" stroke="#141414" stroke-width="1.7" fill="none" stroke-linejoin="round" stroke-linecap="butt"/>
<path d="M207.4,226.3 L243,226.3 Q245.0,226.5 245.0,228.7 Q245.0,231.1 243,231.2 L207.4,231.2 Q205.4,231.1 205.4,228.7 Q205.4,226.5 207.4,226.3 Z" stroke="#141414" stroke-width="1.9" fill="#fff" stroke-linejoin="round" stroke-linecap="butt"/>
<path d="M208.9,231.6 L208.9,237.6 L241.5,237.6 L241.5,231.6" stroke="#141414" stroke-width="1.9" fill="none" stroke-linejoin="round" stroke-linecap="butt"/>
<line x1="225.2" y1="164.5" x2="225.2" y2="241.5" stroke="#141414" stroke-width="0.8" stroke-dasharray="7.5 1.8 1.4 1.8" stroke-linecap="butt"/>
<line x1="283.79999999999995" y1="242.0" x2="316.0" y2="242.0" stroke="#141414" stroke-width="2.0" stroke-linecap="butt" shape-rendering="crispEdges"/>
<line x1="283.79999999999995" y1="246.5" x2="316.0" y2="246.5" stroke="#141414" stroke-width="1.1" stroke-linecap="butt"/>
<line x1="283.79999999999995" y1="242.0" x2="283.79999999999995" y2="253.3" stroke="#141414" stroke-width="1.9" stroke-linecap="butt" shape-rendering="crispEdges"/>
<line x1="316.0" y1="242.0" x2="316.0" y2="253.3" stroke="#141414" stroke-width="1.9" stroke-linecap="butt" shape-rendering="crispEdges"/>
<line x1="134.4" y1="292.7" x2="134.4" y2="361.7" stroke="#141414" stroke-width="1.9" stroke-linecap="butt" shape-rendering="crispEdges"/>
<line x1="166.6" y1="292.7" x2="166.6" y2="361.7" stroke="#141414" stroke-width="1.9" stroke-linecap="butt" shape-rendering="crispEdges"/>
<line x1="134.4" y1="400.1" x2="134.4" y2="458.9" stroke="#141414" stroke-width="1.9" stroke-linecap="butt" shape-rendering="crispEdges"/>
<line x1="166.6" y1="400.1" x2="166.6" y2="458.9" stroke="#141414" stroke-width="1.9" stroke-linecap="butt" shape-rendering="crispEdges"/>
<polygon points="131.9,307.3 169.6,304.1 169.6,309.0 131.9,312.2" fill="#fff"/>
<path d="M132.9,307.3 L169.6,304.1 M132.9,312.2 L169.6,309.0" stroke="#141414" stroke-width="1.2" fill="none" stroke-linejoin="round" stroke-linecap="butt"/>
<polygon points="131.9,424.4 169.6,420.59999999999997 169.6,426.2 131.9,430.0" fill="#fff"/>
<path d="M132.9,424.4 L169.6,420.59999999999997 M132.9,430.0 L169.6,426.2" stroke="#141414" stroke-width="1.2" fill="none" stroke-linejoin="round" stroke-linecap="butt"/>
<path d="M134.4,361.7 L166.6,361.7 M134.4,400.1 L166.6,400.1" stroke="#141414" stroke-width="1.9" fill="none" stroke-linejoin="round" stroke-linecap="butt"/>
<path d="M134.4,361.7 A25.5,25.5 0 0 0 134.4,400.1" stroke="#141414" stroke-width="1.9" fill="none" stroke-linejoin="round" stroke-linecap="butt"/>
<path d="M166.6,361.7 A25.5,25.5 0 0 1 175.29999999999998,372.6 L176.1,373.8 L176.1,389 L175.29999999999998,390.2 A25.5,25.5 0 0 1 166.6,400.1" stroke="#141414" stroke-width="1.9" fill="none" stroke-linejoin="round" stroke-linecap="butt"/>
<path d="M134.4,458.9 L131.6,461.2 L127.7,466.8 M166.6,458.9 L169.4,461.2 L173.29999999999998,466.8" stroke="#141414" stroke-width="1.9" fill="none" stroke-linejoin="round" stroke-linecap="butt"/>
<line x1="134.4" y1="458.9" x2="166.6" y2="458.9" stroke="#141414" stroke-width="1.5" stroke-linecap="butt" shape-rendering="crispEdges"/>
<line x1="127.7" y1="466.8" x2="173.29999999999998" y2="466.8" stroke="#141414" stroke-width="1.2" stroke-linecap="butt"/>
<rect x="139.3" y="473.6" width="22.4" height="12.2" rx="0" ry="0" stroke="#141414" stroke-width="1.5" fill="none"/>
<line x1="145.4" y1="473.6" x2="145.4" y2="485.8" stroke="#141414" stroke-width="1.2" stroke-linecap="butt"/>
<line x1="155.5" y1="473.6" x2="155.5" y2="485.8" stroke="#141414" stroke-width="1.2" stroke-linecap="butt"/>
<line x1="117.9" y1="471.5" x2="117.9" y2="475.2" stroke="#141414" stroke-width="0.8" stroke-linecap="butt"/>
<line x1="182.6" y1="471.5" x2="182.6" y2="478" stroke="#141414" stroke-width="0.8" stroke-dasharray="2.6 1.2" stroke-linecap="butt"/>
<line x1="283.79999999999995" y1="253.2" x2="283.79999999999995" y2="361.7" stroke="#141414" stroke-width="1.1" stroke-linecap="butt"/>
<line x1="316.0" y1="253.2" x2="316.0" y2="361.7" stroke="#141414" stroke-width="1.9" stroke-linecap="butt" shape-rendering="crispEdges"/>
<line x1="283.79999999999995" y1="400.1" x2="283.79999999999995" y2="458.9" stroke="#141414" stroke-width="1.1" stroke-linecap="butt"/>
<line x1="316.0" y1="400.1" x2="316.0" y2="458.9" stroke="#141414" stroke-width="1.9" stroke-linecap="butt" shape-rendering="crispEdges"/>
<polygon points="281.29999999999995,304.8 319.0,306.8 319.0,311.8 281.29999999999995,309.8" fill="#fff"/>
<path d="M282.29999999999995,304.8 L319.0,306.8 M282.29999999999995,309.8 L319.0,311.8" stroke="#141414" stroke-width="1.2" fill="none" stroke-linejoin="round" stroke-linecap="butt"/>
<polygon points="281.29999999999995,420.5 319.0,423.3 319.0,428.7 281.29999999999995,425.9" fill="#fff"/>
<path d="M282.29999999999995,420.5 L319.0,423.3 M282.29999999999995,425.9 L319.0,428.7" stroke="#141414" stroke-width="1.2" fill="none" stroke-linejoin="round" stroke-linecap="butt"/>
<path d="M283.79999999999995,361.7 L316.0,361.7 M283.79999999999995,400.1 L316.0,400.1" stroke="#141414" stroke-width="1.9" fill="none" stroke-linejoin="round" stroke-linecap="butt"/>
<path d="M316.0,361.7 A25.5,25.5 0 0 1 316.0,400.1" stroke="#141414" stroke-width="1.9" fill="none" stroke-linejoin="round" stroke-linecap="butt"/>
<path d="M283.79999999999995,361.7 A25.5,25.5 0 0 0 275.09999999999997,372.6 L274.29999999999995,373.8 L274.29999999999995,389 L275.09999999999997,390.2 A25.5,25.5 0 0 0 283.79999999999995,400.1" stroke="#141414" stroke-width="1.9" fill="none" stroke-linejoin="round" stroke-linecap="butt"/>
<path d="M283.79999999999995,458.9 L280.99999999999994,461.2 L277.09999999999997,466.8 M316.0,458.9 L318.8,461.2 L322.7,466.8" stroke="#141414" stroke-width="1.9" fill="none" stroke-linejoin="round" stroke-linecap="butt"/>
<line x1="283.79999999999995" y1="458.9" x2="316.0" y2="458.9" stroke="#141414" stroke-width="1.5" stroke-linecap="butt" shape-rendering="crispEdges"/>
<line x1="277.09999999999997" y1="466.8" x2="322.7" y2="466.8" stroke="#141414" stroke-width="1.2" stroke-linecap="butt"/>
<rect x="288.7" y="473.6" width="22.4" height="12.2" rx="0" ry="0" stroke="#141414" stroke-width="1.5" fill="none"/>
<line x1="294.79999999999995" y1="473.6" x2="294.79999999999995" y2="485.8" stroke="#141414" stroke-width="1.2" stroke-linecap="butt"/>
<line x1="304.9" y1="473.6" x2="304.9" y2="485.8" stroke="#141414" stroke-width="1.2" stroke-linecap="butt"/>
<line x1="267.29999999999995" y1="471.5" x2="267.29999999999995" y2="475.2" stroke="#141414" stroke-width="0.8" stroke-linecap="butt"/>
<line x1="332.0" y1="471.5" x2="332.0" y2="478" stroke="#141414" stroke-width="0.8" stroke-dasharray="2.6 1.2" stroke-linecap="butt"/>
<line x1="176.1" y1="373.7" x2="274.3" y2="373.7" stroke="#141414" stroke-width="1.9" stroke-linecap="butt" shape-rendering="crispEdges"/>
<line x1="176.1" y1="389.1" x2="274.3" y2="389.1" stroke="#141414" stroke-width="1.9" stroke-linecap="butt" shape-rendering="crispEdges"/>
<path d="M106.9,470.6 L109.5,467.3 L190.1,467.3 L192.4,470.6" stroke="#141414" stroke-width="1.4" fill="none" stroke-linejoin="round" stroke-linecap="butt"/>
<line x1="92" y1="470.9" x2="207.8" y2="470.9" stroke="#141414" stroke-width="1.8" stroke-linecap="butt" shape-rendering="crispEdges"/>
<path d="M256.4,470.8 L259,467.3 L340.2,467.3 L342.6,470.8" stroke="#141414" stroke-width="1.4" fill="none" stroke-linejoin="round" stroke-linecap="butt"/>
<line x1="256.4" y1="471.1" x2="366.8" y2="471.1" stroke="#141414" stroke-width="1.8" stroke-linecap="butt" shape-rendering="crispEdges"/>
<line x1="150.5" y1="185" x2="150.5" y2="487" stroke="#141414" stroke-width="0.8" stroke-dasharray="7.5 1.8 1.4 1.8" stroke-linecap="butt"/>
<line x1="299.9" y1="185" x2="299.9" y2="487" stroke="#141414" stroke-width="0.8" stroke-dasharray="7.5 1.8 1.4 1.8" stroke-linecap="butt"/>
<line x1="123.6" y1="381.1" x2="330" y2="381.1" stroke="#141414" stroke-width="0.8" stroke-dasharray="7.5 1.8 1.4 1.8" stroke-linecap="butt"/>
<line x1="66" y1="273" x2="166" y2="273" stroke="#141414" stroke-width="0.8" stroke-dasharray="7.5 1.8 1.4 1.8" stroke-linecap="butt"/>
<line x1="83.6" y1="262" x2="83.6" y2="290" stroke="#141414" stroke-width="0.8" stroke-dasharray="7.5 1.8 1.4 1.8" stroke-linecap="butt"/>
<line x1="120.5" y1="222.4" x2="178" y2="222.4" stroke="#141414" stroke-width="0.8" stroke-dasharray="7.5 1.8 1.4 1.8" stroke-linecap="butt"/>
<line x1="272" y1="222.4" x2="330" y2="222.4" stroke="#141414" stroke-width="0.8" stroke-dasharray="7.5 1.8 1.4 1.8" stroke-linecap="butt"/>
<path d="M503.6,58.8 L534.9,110.4" stroke="#141414" stroke-width="3.0" fill="none" stroke-linejoin="round" stroke-linecap="round"/>
<path d="M503.20,59.40 C500.90,60.97 500.80,60.80 496.30,64.10 C491.80,67.40 493.13,65.37 489.70,69.30 C486.27,73.23 487.50,71.70 486.00,75.90 C484.50,80.10 486.43,77.20 485.20,81.90 C483.97,86.60 485.00,84.83 482.30,90.00 C479.60,95.17 478.83,94.93 477.10,97.40" stroke="#141414" stroke-width="1.9" fill="none" stroke-linejoin="round" stroke-linecap="butt"/>
<path d="M488.20,115.20 C490.90,114.73 490.63,113.53 496.30,113.80 C501.97,114.07 499.27,114.43 505.20,116.00 C511.13,117.57 508.17,118.27 514.10,118.50 C520.03,118.73 516.17,119.27 523.00,116.70 C529.83,114.13 530.73,112.77 534.60,110.80" stroke="#141414" stroke-width="1.9" fill="none" stroke-linejoin="round" stroke-linecap="butt"/>
<path d="M477.1,97.4 L488.2,115.2" stroke="#141414" stroke-width="3.0" fill="none" stroke-linejoin="round" stroke-linecap="butt"/>
<path d="M479.6,96.4 L490.2,113.6 M481.2,95.4 L491.8,112.6" stroke="#141414" stroke-width="0.7" fill="none" stroke-linejoin="round" stroke-linecap="butt"/>
<path d="M494.1,67.8 L522.3,116" stroke="#141414" stroke-width="0.8" fill="none" stroke-linejoin="round" stroke-linecap="butt"/>
<path d="M486,84.8 L502.3,113" stroke="#141414" stroke-width="0.8" fill="none" stroke-linejoin="round" stroke-linecap="butt"/>
<path d="M477.10,97.40 C474.13,99.90 474.13,99.93 468.20,104.90 C462.27,109.87 464.27,106.40 459.30,112.30 C454.33,118.20 456.07,116.70 453.30,122.60 C450.53,128.50 452.00,125.20 451.00,130.00 C450.00,134.80 450.53,134.67 450.30,137.00 L450.3,155.4" stroke="#141414" stroke-width="1.9" fill="none" stroke-linejoin="round" stroke-linecap="butt"/>
<path d="M487.40,115.40 C484.43,115.83 483.67,114.77 478.50,116.70 C473.33,118.63 475.60,117.23 471.90,121.20 C468.20,125.17 469.43,124.67 467.40,128.60 C465.37,132.53 466.47,130.20 465.80,133.00 C465.13,135.80 465.53,135.67 465.40,137.00 L465.4,155.4" stroke="#141414" stroke-width="1.9" fill="none" stroke-linejoin="round" stroke-linecap="butt"/>
<path d="M467.4,107.8 L473.4,118.9 M471.2,104.4 L477.4,116.2" stroke="#141414" stroke-width="0.8" fill="none" stroke-linejoin="round" stroke-linecap="butt"/>
<line x1="450.3" y1="136.6" x2="465.4" y2="136.6" stroke="#141414" stroke-width="0.8" stroke-linecap="butt"/>
<line x1="450.3" y1="156.2" x2="465.4" y2="156.2" stroke="#141414" stroke-width="0.8" stroke-linecap="butt"/>
<path d="M450.3,155.4 L447.4,160 L446.9,162.4 M465.4,155.4 L468.7,160 L469.2,162.4" stroke="#141414" stroke-width="1.4" fill="none" stroke-linejoin="round" stroke-linecap="butt"/>
<line x1="448.0" y1="159.2" x2="468.2" y2="159.2" stroke="#141414" stroke-width="0.8" stroke-linecap="butt"/>
<line x1="446.2" y1="162.5" x2="469.8" y2="162.5" stroke="#141414" stroke-width="3.0" stroke-linecap="butt" shape-rendering="crispEdges"/>
<path d="M442.2,203.0 A25.4,25.4 0 0 0 443.0,242.6" stroke="#141414" stroke-width="1.9" fill="none" stroke-linejoin="round" stroke-linecap="butt"/>
<path d="M474.1,202.5 A25.4,25.4 0 0 1 480,209.4" stroke="#141414" stroke-width="1.9" fill="none" stroke-linejoin="round" stroke-linecap="butt"/>
<path d="M480,235.2 A25.4,25.4 0 0 1 474.1,242.4" stroke="#141414" stroke-width="1.9" fill="none" stroke-linejoin="round" stroke-linecap="butt"/>
<path d="M446.90,163.40 C445.80,168.27 445.17,168.47 443.60,178.00 C442.03,187.53 442.60,182.00 442.20,192.00 C441.80,202.00 441.93,198.00 442.40,208.00 C442.87,218.00 442.60,212.67 443.60,222.00 C444.60,231.33 443.93,226.67 445.40,236.00 C446.87,245.33 447.13,245.33 448.00,250.00" stroke="#141414" stroke-width="1.9" fill="none" stroke-linejoin="round" stroke-linecap="butt"/>
<path d="M469.20,163.40 C470.27,168.27 470.67,167.47 472.40,178.00 C474.13,188.53 473.60,184.33 474.40,195.00 C475.20,205.67 474.93,201.00 474.80,210.00 C474.67,219.00 474.93,213.33 474.00,222.00 C473.07,230.67 473.67,226.67 472.00,236.00 C470.33,245.33 470.00,245.33 469.00,250.00" stroke="#141414" stroke-width="1.9" fill="none" stroke-linejoin="round" stroke-linecap="butt"/>
<path d="M446.6,250.4 L470.0,250.4 M446.6,254.0 L470.0,254.0" stroke="#141414" stroke-width="1.7" fill="none" stroke-linejoin="round" stroke-linecap="butt"/>
<path d="M446.8,250.2 Q445.6,252 446.8,253.8 M469.6,250.2 Q470.8,252 469.6,253.8" stroke="#141414" stroke-width="1.4" fill="none" stroke-linejoin="round" stroke-linecap="butt"/>
<path d="M442.6,242.4 L442.6,253 M445.8,243.6 L445.8,253 M470.6,243.6 L470.6,253 M473.8,242.4 L473.8,253 M442.6,247.1 L445.8,247.1 M470.6,247.1 L473.8,247.1" stroke="#141414" stroke-width="1.3" fill="none" stroke-linejoin="round" stroke-linecap="butt"/>
<rect x="433.5" y="252.9" width="48.9" height="40.1" rx="4.2" ry="4.2" stroke="#141414" stroke-width="1.9" fill="none"/>
<path d="M447.4,254.1 L450.4,259.3 M469.3,254.1 L466.4,259.3" stroke="#141414" stroke-width="1.4" fill="none" stroke-linejoin="round" stroke-linecap="butt"/>
<path d="M450.0,259.3 L467.0,259.3 M450.0,262.4 L467.0,262.4" stroke="#141414" stroke-width="1.6" fill="none" stroke-linejoin="round" stroke-linecap="butt"/>
<path d="M449.4,262.4 A15.2,15.2 0 1 0 467.0,262.4" stroke="#141414" stroke-width="1.9" fill="none" stroke-linejoin="round" stroke-linecap="butt"/>
<path d="M450.7,264.6 L450.7,282.4 M466.3,264.6 L466.3,282.4" stroke="#141414" stroke-width="1.6" fill="none" stroke-linejoin="round" stroke-linecap="butt"/>
<line x1="450.7" y1="272.6" x2="466.3" y2="272.6" stroke="#141414" stroke-width="1.6" stroke-linecap="butt" shape-rendering="crispEdges"/>
<path d="M453.9,272.9 A4.4,4.4 0 0 0 462.7,272.9 Z" stroke="#141414" stroke-width="0.5" fill="#141414" stroke-linejoin="round" stroke-linecap="butt"/>
<path d="M480,209.4 L489.7,209.4 M480,235.2 L489.7,235.2 M480,209.4 L480,235.2" stroke="#141414" stroke-width="1.9" fill="none" stroke-linejoin="round" stroke-linecap="butt"/>
<rect x="489.5" y="206.5" width="13.7" height="31.6" rx="1.6" ry="1.6" stroke="#141414" stroke-width="1.9" fill="#fff"/>
<line x1="489.5" y1="212.0" x2="503.2" y2="212.0" stroke="#141414" stroke-width="1.3" stroke-linecap="butt" shape-rendering="crispEdges"/>
<line x1="489.5" y1="215.4" x2="503.2" y2="215.4" stroke="#141414" stroke-width="1.3" stroke-linecap="butt" shape-rendering="crispEdges"/>
<line x1="489.5" y1="228.7" x2="503.2" y2="228.7" stroke="#141414" stroke-width="1.3" stroke-linecap="butt" shape-rendering="crispEdges"/>
<line x1="489.5" y1="232.1" x2="503.2" y2="232.1" stroke="#141414" stroke-width="1.3" stroke-linecap="butt" shape-rendering="crispEdges"/>
<line x1="491.3" y1="215.4" x2="491.3" y2="228.7" stroke="#141414" stroke-width="1.0" stroke-linecap="butt"/>
<path d="M505.40,168.20 C504.40,171.40 504.13,170.63 502.40,177.80 C500.67,184.97 501.20,180.80 500.20,189.70 C499.20,198.60 499.67,198.87 499.40,204.50 C499.13,210.13 499.40,205.90 499.40,206.60" stroke="#141414" stroke-width="1.9" fill="none" stroke-linejoin="round" stroke-linecap="butt"/>
<path d="M503.90,207.00 C507.73,206.53 508.60,206.80 515.40,205.60 C522.20,204.40 519.37,203.60 524.30,203.40 C529.23,203.20 526.73,203.23 530.20,205.00 C533.67,206.77 532.10,205.70 534.70,208.70 C537.30,211.70 536.73,210.47 538.00,214.00 C539.27,217.53 539.03,214.23 538.50,219.30 C537.97,224.37 539.40,223.97 536.40,229.20 C533.40,234.43 534.53,232.50 529.50,235.00 C524.47,237.50 529.83,236.27 521.30,236.70 C512.77,237.13 509.70,236.43 503.90,236.30" stroke="#141414" stroke-width="1.9" fill="none" stroke-linejoin="round" stroke-linecap="butt"/>
<line x1="506.9" y1="206.6" x2="506.9" y2="236.2" stroke="#141414" stroke-width="0.8" stroke-linecap="butt"/>
<line x1="515" y1="204.6" x2="515" y2="236" stroke="#141414" stroke-width="0.8" stroke-linecap="butt"/>
<line x1="503.9" y1="219.3" x2="538.6" y2="219.3" stroke="#141414" stroke-width="0.8" stroke-linecap="butt"/>
<line x1="503.9" y1="223.0" x2="538.2" y2="223.0" stroke="#141414" stroke-width="0.8" stroke-linecap="butt"/>
<path d="M548.00,166.00 C548.97,170.43 547.93,172.17 550.90,179.30 C553.87,186.43 551.93,183.47 556.90,187.40 C561.87,191.33 559.13,189.47 565.80,191.10 C572.47,192.73 569.00,191.70 576.90,192.30 C584.80,192.90 580.37,191.57 589.50,192.90 C598.63,194.23 594.43,193.93 604.30,196.30 C614.17,198.67 611.20,197.70 619.10,200.00 C627.00,202.30 622.57,200.23 628.00,203.20 C633.43,206.17 631.20,204.27 635.40,208.90 C639.60,213.53 637.80,211.23 640.60,217.10 C643.40,222.97 642.73,223.37 643.80,226.50" stroke="#141414" stroke-width="1.9" fill="none" stroke-linejoin="round" stroke-linecap="butt"/>
<path d="M502.90,238.40 C508.60,238.13 509.40,238.87 520.00,237.60 C530.60,236.33 526.37,236.73 534.70,234.60 C543.03,232.47 536.63,233.83 545.00,231.20 C553.37,228.57 550.67,229.57 559.80,226.70 C568.93,223.83 568.20,223.97 572.40,222.60" stroke="#141414" stroke-width="1.9" fill="none" stroke-linejoin="round" stroke-linecap="butt"/>
<path d="M572.40,222.60 C574.27,221.93 574.30,221.47 578.00,220.60 C581.70,219.73 579.83,219.93 583.50,220.00 C587.17,220.07 585.53,220.03 589.00,220.80 C592.47,221.57 587.80,220.33 593.90,222.30 C600.00,224.27 602.83,225.23 607.30,226.70" stroke="#141414" stroke-width="1.9" fill="none" stroke-linejoin="round" stroke-linecap="butt"/>
<path d="M609.6,226.8 L643.6,226.8 Q646,226.8 646,229.3 Q646,231.8 643.6,231.8 L609.6,231.8 Q607.2,231.8 607.2,229.3 Q607.2,226.8 609.6,226.8 Z" stroke="#141414" stroke-width="1.9" fill="#fff" stroke-linejoin="round" stroke-linecap="butt"/>
<path d="M610,231.8 L610,236.9 L642.6,236.9 M642.6,231.8 L642.6,236.9" stroke="#141414" stroke-width="1.3" fill="none" stroke-linejoin="round" stroke-linecap="butt"/>
<path d="M572.4,222.6 L572.4,232.9 L593.6,232.9 L593.6,222.3" stroke="#141414" stroke-width="1.4" fill="none" stroke-linejoin="round" stroke-linecap="butt"/>
<line x1="576.1" y1="221.4" x2="576.1" y2="232.9" stroke="#141414" stroke-width="0.8" stroke-linecap="butt"/>
<line x1="591" y1="221.4" x2="591" y2="232.9" stroke="#141414" stroke-width="0.8" stroke-linecap="butt"/>
<path d="M573.2,167.7 L593.8,167.7 Q595.8,167.9 595.8,169.8 Q595.8,171.8 593.8,171.8 L573.2,171.8 Q571.2,171.8 571.2,169.8 Q571.2,167.9 573.2,167.7 Z" stroke="#141414" stroke-width="1.9" fill="#fff" stroke-linejoin="round" stroke-linecap="butt"/>
<path d="M574.5,167.4 Q583.5,164.6 592.5,167.4" stroke="#141414" stroke-width="1.2" fill="none" stroke-linejoin="round" stroke-linecap="butt"/>
<path d="M573.4,171.8 L573.4,187.9 L594.2,187.9 L594.2,171.8" stroke="#141414" stroke-width="1.9" fill="none" stroke-linejoin="round" stroke-linecap="butt"/>
<path d="M577,187.9 L577,192.2 M590.5,187.9 L590.5,193.2" stroke="#141414" stroke-width="1.4" fill="none" stroke-linejoin="round" stroke-linecap="butt"/>
<path d="M503,156.2 C503,140 513.5,131.7 526.9,131.7 C540.3,131.7 550.8,140 550.8,156.2" stroke="#141414" stroke-width="1.9" fill="#fff" stroke-linejoin="round" stroke-linecap="butt"/>
<line x1="503" y1="156.2" x2="550.8" y2="156.2" stroke="#141414" stroke-width="1.2" stroke-linecap="butt"/>
<path d="M503,156.2 L503,161.8 Q503,163.6 505,163.6 L548.8,163.6 Q550.8,163.6 550.8,161.8 L550.8,156.2" stroke="#141414" stroke-width="1.9" fill="none" stroke-linejoin="round" stroke-linecap="butt"/>
<path d="M505.6,164.3 L507,168 L547.1,168 L548.4,164.3" stroke="#141414" stroke-width="1.3" fill="none" stroke-linejoin="round" stroke-linecap="butt"/>
<ellipse cx="497.2" cy="152.9" rx="5.5" ry="5.5" stroke="#141414" stroke-width="1.9" fill="#fff" />
<path d="M544.90,138.40 C546.97,137.77 546.83,138.40 551.10,136.50 C555.37,134.60 553.60,135.57 557.70,132.70 C561.80,129.83 560.53,129.97 563.40,127.90 C566.27,125.83 563.93,127.20 566.30,126.50 C568.67,125.80 567.67,127.37 570.50,125.80 C573.33,124.23 571.17,125.50 574.80,121.80 C578.43,118.10 577.63,117.80 581.40,114.70 C585.17,111.60 582.93,113.10 586.10,112.50 C589.27,111.90 588.20,111.70 590.90,112.90 C593.60,114.10 592.90,113.77 594.20,116.10 C595.50,118.43 595.13,117.07 594.80,119.90 C594.47,122.73 595.13,121.93 593.20,124.60 C591.27,127.27 592.63,126.30 589.00,127.90 C585.37,129.50 587.03,128.13 582.30,129.40 C577.57,130.67 578.10,129.83 574.80,131.70 C571.50,133.57 574.13,133.27 572.40,135.00 C570.67,136.73 571.97,135.93 569.60,136.90 C567.23,137.87 568.63,136.93 565.30,137.90 C561.97,138.87 563.07,137.90 559.60,139.80 C556.13,141.70 557.97,140.77 554.90,143.60 C551.83,146.43 551.90,146.73 550.40,148.30" stroke="#141414" stroke-width="1.9" fill="#fff" stroke-linejoin="round" stroke-linecap="butt"/>
<path d="M544.9,138.4 L550.4,148.3" stroke="#141414" stroke-width="1.9" fill="none" stroke-linejoin="round" stroke-linecap="butt"/>
<path d="M547.3,137.6 L552.6,147.0 M549.2,137.0 L553.8,145.4" stroke="#141414" stroke-width="1.0" fill="none" stroke-linejoin="round" stroke-linecap="butt"/>
<path d="M563.4,127.9 L567.7,137.2 M566.3,126.8 L570.5,136.2 M568.2,126.4 L571.6,134.6" stroke="#141414" stroke-width="1.1" fill="none" stroke-linejoin="round" stroke-linecap="butt"/>
<path d="M582.8,116.0 L588,125.8" stroke="#141414" stroke-width="1.0" fill="none" stroke-linejoin="round" stroke-linecap="butt"/>
<path d="M572.6,126.6 L574.9,131.4" stroke="#141414" stroke-width="0.9" fill="none" stroke-linejoin="round" stroke-linecap="butt"/>
<path d="M508.3,204.8 A17.1,17.1 0 0 1 542.4,203.2" stroke="#141414" stroke-width="0.8" fill="none" stroke-linejoin="round" stroke-linecap="butt"/>
<path d="M523.9,188.3 L523.9,202.6 M526.1,188.3 L526.1,202.8" stroke="#141414" stroke-width="0.8" fill="none" stroke-linejoin="round" stroke-linecap="butt"/>
<path d="M548.60,168.40 C548.53,173.00 549.27,174.00 548.40,182.20 C547.53,190.40 547.73,186.07 546.00,193.00 C544.27,199.93 544.13,199.67 543.20,203.00" stroke="#141414" stroke-width="0.8" fill="none" stroke-linejoin="round" stroke-linecap="butt"/>
<path d="M543.90,203.70 C545.93,204.33 546.53,203.37 550.00,205.60 C553.47,207.83 552.43,206.77 554.30,210.40 C556.17,214.03 555.60,212.53 555.60,216.50 C555.60,220.47 555.70,218.60 554.30,222.30 C552.90,226.00 553.87,224.63 551.40,227.60 C548.93,230.57 548.40,230.00 546.90,231.20" stroke="#141414" stroke-width="0.8" fill="none" stroke-linejoin="round" stroke-linecap="butt"/>
<path d="M538.0,208.6 L555.0,207.6" stroke="#141414" stroke-width="0.8" fill="none" stroke-linejoin="round" stroke-linecap="butt"/>
<path d="M538.0,212.0 L555.0,211.6" stroke="#141414" stroke-width="0.8" fill="none" stroke-linejoin="round" stroke-linecap="butt"/>
<path d="M538.0,215.0 L555.0,214.8" stroke="#141414" stroke-width="0.8" fill="none" stroke-linejoin="round" stroke-linecap="butt"/>
<path d="M538.0,218.4 L555.0,218.0" stroke="#141414" stroke-width="0.8" fill="none" stroke-linejoin="round" stroke-linecap="butt"/>
<path d="M538.0,221.6 L555.0,221.8" stroke="#141414" stroke-width="0.8" fill="none" stroke-linejoin="round" stroke-linecap="butt"/>
<path d="M538.0,224.8 L555.0,225.2" stroke="#141414" stroke-width="0.8" fill="none" stroke-linejoin="round" stroke-linecap="butt"/>
<path d="M536.4,228.2 L549,232 M548.6,226 L538.6,232.6" stroke="#141414" stroke-width="0.8" fill="none" stroke-linejoin="round" stroke-linecap="butt"/>
<path d="M543.90,203.70 C547.37,203.97 545.90,204.00 554.30,204.50 C562.70,205.00 559.20,204.23 569.10,205.20 C579.00,206.17 572.03,205.43 584.00,207.40 C595.97,209.37 593.30,208.37 605.00,211.10 C616.70,213.83 610.93,211.37 619.10,215.60 C627.27,219.83 626.03,221.07 629.50,223.80" stroke="#141414" stroke-width="0.8" fill="none" stroke-linejoin="round" stroke-linecap="butt"/>
<path d="M554.30,217.10 C556.53,216.27 556.07,216.33 561.00,214.60 C565.93,212.87 561.43,214.03 569.10,211.90 C576.77,209.77 575.03,208.97 584.00,208.20 C592.97,207.43 592.00,209.13 596.00,209.60" stroke="#141414" stroke-width="0.8" fill="none" stroke-linejoin="round" stroke-linecap="butt"/>
<path d="M554.30,204.50 C555.30,202.03 553.83,201.30 557.30,197.10 C560.77,192.90 562.23,193.63 564.70,191.90" stroke="#141414" stroke-width="0.8" fill="none" stroke-linejoin="round" stroke-linecap="butt"/>
<path d="M560.2,213.4 L565.4,223.7" stroke="#141414" stroke-width="0.8" fill="none" stroke-linejoin="round" stroke-linecap="butt"/>
<path d="M622.80,200.90 C621.93,202.73 621.43,202.73 620.20,206.40 C618.97,210.07 618.97,208.57 619.10,211.90 C619.23,215.23 620.10,214.90 620.60,216.40" stroke="#141414" stroke-width="0.8" fill="none" stroke-linejoin="round" stroke-linecap="butt"/>
<line x1="442.2" y1="293.4" x2="442.2" y2="361.7" stroke="#141414" stroke-width="1.9" stroke-linecap="butt" shape-rendering="crispEdges"/>
<line x1="474.4" y1="293.4" x2="474.4" y2="361.7" stroke="#555" stroke-width="0.9" stroke-linecap="butt"/>
<line x1="442.2" y1="400.1" x2="442.2" y2="458.9" stroke="#141414" stroke-width="1.9" stroke-linecap="butt" shape-rendering="crispEdges"/>
<line x1="474.4" y1="400.1" x2="474.4" y2="458.9" stroke="#141414" stroke-width="1.2" stroke-linecap="butt"/>
<polygon points="439.2,305.4 476.4,307.9 476.4,313.1 439.2,310.6" fill="#fff"/>
<path d="M440.2,305.4 L475.59999999999997,307.9 M440.2,310.6 L475.59999999999997,313.1" stroke="#141414" stroke-width="1.2" fill="none" stroke-linejoin="round" stroke-linecap="butt"/>
<polygon points="439.2,423.2 476.4,426.2 476.4,432.2 439.2,429.2" fill="#fff"/>
<path d="M440.2,423.2 L475.59999999999997,426.2 M440.2,429.2 L475.59999999999997,432.2" stroke="#141414" stroke-width="1.2" fill="none" stroke-linejoin="round" stroke-linecap="butt"/>
<path d="M442.2,361.7 L474.4,361.7 M442.2,400.1 L474.4,400.1" stroke="#141414" stroke-width="1.9" fill="none" stroke-linejoin="round" stroke-linecap="butt"/>
<path d="M442.2,361.7 A25.5,25.5 0 0 0 442.2,400.1" stroke="#141414" stroke-width="1.9" fill="none" stroke-linejoin="round" stroke-linecap="butt"/>
<path d="M474.4,361.7 A25.5,25.5 0 0 1 474.4,400.1" stroke="#141414" stroke-width="1.9" fill="none" stroke-linejoin="round" stroke-linecap="butt"/>
<path d="M442.2,458.9 L439.4,460.6 L435.59999999999997,466.6 M474.4,458.9 L477.2,460.6 L481.0,466.6" stroke="#141414" stroke-width="1.9" fill="none" stroke-linejoin="round" stroke-linecap="butt"/>
<line x1="442.2" y1="458.9" x2="474.4" y2="458.9" stroke="#141414" stroke-width="1.5" stroke-linecap="butt" shape-rendering="crispEdges"/>
<line x1="435.59999999999997" y1="466.8" x2="481.0" y2="466.8" stroke="#141414" stroke-width="1.2" stroke-linecap="butt"/>
<rect x="447.5" y="473.6" width="22.0" height="12.1" rx="0" ry="0" stroke="#141414" stroke-width="1.5" fill="none"/>
<line x1="453.5" y1="473.6" x2="453.5" y2="485.7" stroke="#141414" stroke-width="1.2" stroke-linecap="butt"/>
<line x1="462.9" y1="473.6" x2="462.9" y2="485.7" stroke="#141414" stroke-width="1.2" stroke-linecap="butt"/>
<line x1="426.2" y1="464.6" x2="426.2" y2="468.4" stroke="#141414" stroke-width="0.8" stroke-linecap="butt"/>
<line x1="426.2" y1="474" x2="426.2" y2="477" stroke="#141414" stroke-width="0.8" stroke-linecap="butt"/>
<line x1="490.7" y1="464.6" x2="490.7" y2="477" stroke="#141414" stroke-width="0.8" stroke-dasharray="3 1.3" stroke-linecap="butt"/>
<path d="M417.6,470.2 Q414.2,468.8 417.8,467.3 L498.6,467.3 Q502.4,468.8 499.0,470.2" stroke="#141414" stroke-width="1.4" fill="none" stroke-linejoin="round" stroke-linecap="butt"/>
<line x1="399.7" y1="470.8" x2="526.8" y2="470.8" stroke="#141414" stroke-width="1.2" stroke-linecap="butt"/>
<line x1="458.5" y1="163" x2="458.5" y2="200" stroke="#141414" stroke-width="0.8" stroke-linecap="butt"/>
<line x1="458.5" y1="200" x2="458.5" y2="486" stroke="#141414" stroke-width="0.8" stroke-dasharray="7.5 1.8 1.4 1.8" stroke-linecap="butt"/>
<line x1="526.5" y1="151.3" x2="526.5" y2="181" stroke="#141414" stroke-width="0.8" stroke-dasharray="7.5 1.8 1.4 1.8" stroke-linecap="butt"/>
<line x1="583.4" y1="183" x2="583.4" y2="240" stroke="#141414" stroke-width="0.8" stroke-dasharray="7.5 1.8 1.4 1.8" stroke-linecap="butt"/>
<line x1="626.5" y1="206.5" x2="626.5" y2="240" stroke="#141414" stroke-width="0.8" stroke-dasharray="7.5 1.8 1.4 1.8" stroke-linecap="butt"/>
<line x1="420" y1="222.6" x2="506" y2="222.6" stroke="#141414" stroke-width="0.8" stroke-dasharray="7.5 1.8 1.4 1.8" stroke-linecap="butt"/>
<line x1="432" y1="381.1" x2="484" y2="381.1" stroke="#141414" stroke-width="0.8" stroke-dasharray="7.5 1.8 1.4 1.8" stroke-linecap="butt"/>
<line x1="441" y1="272.8" x2="476" y2="272.8" stroke="#141414" stroke-width="0.6" stroke-dasharray="7.5 1.8 1.4 1.8" stroke-linecap="butt"/>
<line x1="80" y1="57.7" x2="383.8" y2="57.7" stroke="#3a3a3a" stroke-width="0.9" stroke-linecap="butt"/>
<line x1="381.0" y1="57.7" x2="381.0" y2="222.2" stroke="#141414" stroke-width="1.3" stroke-linecap="butt" shape-rendering="crispEdges"/>
<polygon points="381.00,57.70 379.00,68.20 383.00,68.20" fill="#141414"/>
<polygon points="381.00,222.20 379.00,211.70 383.00,211.70" fill="#141414"/>
<text transform="translate(378.6,148.6) rotate(-90) scale(0.775,1)" text-anchor="middle" font-size="15.5">165</text>
<line x1="224.8" y1="112.9" x2="349.0" y2="112.9" stroke="#141414" stroke-width="1.5" stroke-linecap="butt" shape-rendering="crispEdges"/>
<line x1="345.9" y1="112.9" x2="345.9" y2="222.2" stroke="#141414" stroke-width="0.9" stroke-linecap="butt"/>
<polygon points="345.90,112.90 343.90,123.40 347.90,123.40" fill="#141414"/>
<polygon points="345.90,222.20 343.90,211.70 347.90,211.70" fill="#141414"/>
<text transform="translate(344.5,173.3) rotate(-90) scale(0.775,1)" text-anchor="middle" font-size="15.5">110</text>
<line x1="326" y1="222.2" x2="384.5" y2="222.2" stroke="#141414" stroke-width="0.9" stroke-linecap="butt"/>
<line x1="83.6" y1="290" x2="83.6" y2="321.5" stroke="#141414" stroke-width="0.9" stroke-linecap="butt"/>
<line x1="150.5" y1="300" x2="150.5" y2="321.5" stroke="#141414" stroke-width="0.9" stroke-linecap="butt"/>
<line x1="83.6" y1="318.3" x2="150.5" y2="318.3" stroke="#141414" stroke-width="0.9" stroke-linecap="butt"/>
<polygon points="83.60,318.30 94.10,316.30 94.10,320.30" fill="#141414"/>
<polygon points="150.50,318.30 140.00,316.30 140.00,320.30" fill="#141414"/>
<text transform="translate(117.3,315.7) scale(0.775,1)" text-anchor="middle" font-size="15.5">67</text>
<line x1="330" y1="381.1" x2="368" y2="381.1" stroke="#141414" stroke-width="0.9" stroke-linecap="butt"/>
<line x1="364.6" y1="381.1" x2="364.6" y2="471" stroke="#141414" stroke-width="0.9" stroke-linecap="butt"/>
<polygon points="364.60,381.10 362.60,391.60 366.60,391.60" fill="#141414"/>
<polygon points="364.60,471.00 362.60,460.50 366.60,460.50" fill="#141414"/>
<text transform="translate(362,426) rotate(-90) scale(0.775,1)" text-anchor="middle" font-size="15.5">370</text>
<line x1="150.5" y1="534.7" x2="299.9" y2="534.7" stroke="#141414" stroke-width="0.9" stroke-linecap="butt"/>
<polygon points="150.50,534.70 161.00,532.70 161.00,536.70" fill="#141414"/>
<polygon points="299.90,534.70 289.40,532.70 289.40,536.70" fill="#141414"/>
<line x1="150.5" y1="486" x2="150.5" y2="538" stroke="#141414" stroke-width="0.9" stroke-linecap="butt"/>
<line x1="299.9" y1="486" x2="299.9" y2="538" stroke="#141414" stroke-width="0.9" stroke-linecap="butt"/>
<text transform="translate(225.3,532.2) scale(0.775,1)" text-anchor="middle" font-size="15.5">150</text>
<line x1="234.6" y1="498.2" x2="328" y2="498.2" stroke="#141414" stroke-width="0.9" stroke-linecap="butt"/>
<line x1="291.4" y1="485.8" x2="291.4" y2="500.6" stroke="#141414" stroke-width="0.9" stroke-linecap="butt"/>
<line x1="307.7" y1="485.8" x2="307.7" y2="500.6" stroke="#141414" stroke-width="0.9" stroke-linecap="butt"/>
<polygon points="291.40,498.20 280.90,496.20 280.90,500.20" fill="#141414"/>
<polygon points="307.70,498.20 318.20,496.20 318.20,500.20" fill="#141414"/>
<text transform="translate(236.8,492.0) scale(0.64,1)" text-anchor="start" font-size="15.5">G</text>
<text transform="translate(244.6,492.0) scale(0.775,1)" text-anchor="start" font-size="15.5">1</text>
<line x1="250.4" y1="495.4" x2="258.6" y2="479.9" stroke="#141414" stroke-width="1.2" stroke-linecap="butt"/>
<text transform="translate(259.2,492.0) scale(0.775,1)" text-anchor="start" font-size="15.5">2"</text>
<line x1="458.5" y1="47" x2="458.5" y2="163" stroke="#141414" stroke-width="0.9" stroke-linecap="butt"/>
<line x1="645.8" y1="47" x2="645.8" y2="226.6" stroke="#141414" stroke-width="0.9" stroke-linecap="butt"/>
<line x1="458.5" y1="50.6" x2="645.8" y2="50.6" stroke="#141414" stroke-width="0.9" stroke-linecap="butt"/>
<polygon points="458.50,50.60 469.00,48.60 469.00,52.60" fill="#141414"/>
<polygon points="645.80,50.60 635.30,48.60 635.30,52.60" fill="#141414"/>
<text transform="translate(548.7,48.0) scale(0.775,1)" text-anchor="middle" font-size="15.5">188</text>
<line x1="588.5" y1="113.1" x2="678" y2="113.1" stroke="#141414" stroke-width="1.3" stroke-linecap="butt" shape-rendering="crispEdges"/>
<line x1="610" y1="236.9" x2="677.6" y2="236.9" stroke="#141414" stroke-width="0.9" stroke-linecap="butt"/>
<line x1="674.5" y1="113.1" x2="674.5" y2="236.9" stroke="#141414" stroke-width="1.1" stroke-linecap="butt"/>
<polygon points="674.50,113.10 672.50,123.60 676.50,123.60" fill="#141414"/>
<polygon points="674.50,236.90 672.50,226.40 676.50,226.40" fill="#141414"/>
<text transform="translate(672.6,175.0) rotate(-90) scale(0.775,1)" text-anchor="middle" font-size="15.5">125</text>
<line x1="400.5" y1="222.6" x2="432" y2="222.6" stroke="#141414" stroke-width="0.9" stroke-linecap="butt"/>
<line x1="403.0" y1="222.6" x2="403.0" y2="470.8" stroke="#141414" stroke-width="1.3" stroke-linecap="butt" shape-rendering="crispEdges"/>
<polygon points="403.00,222.60 401.00,233.10 405.00,233.10" fill="#141414"/>
<polygon points="403.00,470.80 401.00,460.30 405.00,460.30" fill="#141414"/>
<text transform="translate(401.2,343.2) rotate(-90) scale(0.775,1)" text-anchor="middle" font-size="15.5">850</text>
<line x1="583.0" y1="240" x2="583.0" y2="303.6" stroke="#141414" stroke-width="0.9" stroke-linecap="butt"/>
<line x1="458.5" y1="300.6" x2="583.0" y2="300.6" stroke="#141414" stroke-width="0.9" stroke-linecap="butt"/>
<polygon points="458.50,300.60 469.00,298.60 469.00,302.60" fill="#141414"/>
<polygon points="583.00,300.60 572.50,298.60 572.50,302.60" fill="#141414"/>
<text transform="translate(519.8,298.4) scale(0.775,1)" text-anchor="middle" font-size="15.5">125</text>
<line x1="626.5" y1="240" x2="626.5" y2="337" stroke="#141414" stroke-width="0.9" stroke-linecap="butt"/>
<line x1="458.5" y1="333.6" x2="626.5" y2="333.6" stroke="#141414" stroke-width="0.9" stroke-linecap="butt"/>
<polygon points="458.50,333.60 469.00,331.60 469.00,335.60" fill="#141414"/>
<polygon points="626.50,333.60 616.00,331.60 616.00,335.60" fill="#141414"/>
<text transform="translate(541.0,332.0) scale(0.775,1)" text-anchor="middle" font-size="15.5">169</text>
<line x1="484" y1="381.1" x2="526.5" y2="381.1" stroke="#141414" stroke-width="0.9" stroke-linecap="butt"/>
<line x1="523.5" y1="381.1" x2="523.5" y2="470.8" stroke="#141414" stroke-width="1.2" stroke-linecap="butt"/>
<polygon points="523.50,381.10 521.50,391.60 525.50,391.60" fill="#141414"/>
<polygon points="523.50,470.80 521.50,460.30 525.50,460.30" fill="#141414"/>
<text transform="translate(521.2,426) rotate(-90) scale(0.775,1)" text-anchor="middle" font-size="15.5">370</text>
</g>
</svg>
</body></html>
